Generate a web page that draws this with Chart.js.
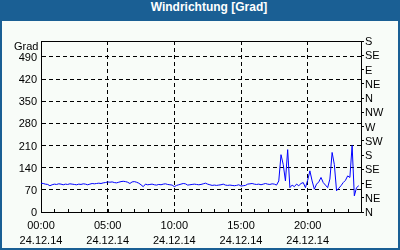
<!DOCTYPE html>
<html>
<head>
<meta charset="utf-8">
<script src="https://cdn.jsdelivr.net/npm/chart.js@4/dist/chart.umd.min.js"></script>
<style>
  html, body { margin: 0; padding: 0; background: #fff; }
  #frame {
    position: relative;
    width: 400px;
    height: 250px;
    background: #1a5f94;
    overflow: hidden;
  }
  #title {
    position: absolute;
    left: 0; top: 0;
    width: 400px;
    height: 21px;
    line-height: 20px;
    padding-left: 18px;
    box-sizing: border-box;
    text-align: center;
    color: #fff;
    font: bold 12px "Liberation Sans", Arial, sans-serif;
  }
  #plot {
    position: absolute;
    left: 2px; top: 21px;
    width: 396px; height: 227px;
    background: #f8fcf8;
  }
</style>
</head>
<body>
<div id="frame">
  <div id="title">Windrichtung [Grad]</div>
  <div id="plot"><canvas id="chart-wind" width="396" height="227"></canvas></div>
</div>
<script>
// 10-Minuten-Werte, 24.12.14 00:00 .. 23:50
const sampleMinutes = 10;
const windDirection = [
  91, 90, 88, 87, 83, 86, 88, 87, 89, 88,
  86, 88, 87, 89, 88, 87, 86, 88, 87, 89,
  88, 86, 88, 90, 89, 90, 91, 90, 92, 93,
  95, 94, 95, 93, 92, 94, 96, 97, 96, 94,
  90, 95, 96, 94, 91, 86, 80, 88, 86, 87,
  88, 86, 85, 87, 86, 88, 89, 87, 86, 85,
  80, 84, 86, 88, 90, 89, 85, 86, 87, 88,
  87, 86, 87, 89, 91, 88, 86, 84, 85, 84,
  85, 86, 88, 85, 84, 85, 84, 83, 84, 86,
  82, 83, 84, 88, 89, 90, 88, 87, 88, 86,
  88, 90, 88, 87, 89, 88, 85, 98, 181, 150,
  98, 197, 77, 85, 80, 88, 83, 90, 93, 77,
  100, 130, 98, 72, 88, 95, 109, 93, 85, 77,
  104, 188, 150, 67, 75, 83, 93, 100, 114, 109,
  210, 51, 77, 83,
];

const degreeTicks = [0, 70, 140, 210, 280, 350, 420, 490];
const compassTicks = [0, 45, 90, 135, 180, 225, 270, 315, 360, 405, 450, 495, 540];
const compassLabels = ["N", "NE", "E", "SE", "S", "SW", "W", "NW", "N", "NE", "E", "SE", "S"];
const hourTicks = [0, 60, 120, 180, 240, 300, 360, 420, 480, 540, 600, 660, 720, 780, 840, 900, 960, 1020, 1080, 1140, 1200, 1260, 1320, 1380, 1440];
const labeledHours = { 0: ["00:00", "24.12.14"], 300: ["05:00", "24.12.14"], 600: ["10:00", "24.12.14"], 900: ["15:00", "24.12.14"], 1200: ["20:00", "24.12.14"] };
const unitLabel = "Grad";
const axisMax = 540;

const tickFont = { family: "'Liberation Sans', Arial, sans-serif", size: 11 };

const points = windDirection.map((value, index) => ({ x: index * sampleMinutes, y: value }));

// Rahmen, Stunden-Striche und Einheit
const framePlugin = {
  id: "frame",
  afterDraw(chart) {
    const { ctx, chartArea, scales } = chart;
    ctx.save();
    ctx.strokeStyle = "#000";
    ctx.lineWidth = 1;
    ctx.beginPath();
    ctx.moveTo(Math.round(chartArea.left) + 0.5, Math.round(chartArea.top) + 0.5);
    ctx.lineTo(Math.round(chartArea.right) + 0.5, Math.round(chartArea.top) + 0.5);
    ctx.stroke();

    const bottom = Math.round(chartArea.bottom);
    scales.x.ticks.forEach((tick) => {
      const px = Math.round(scales.x.getPixelForValue(tick.value)) + 0.5;
      ctx.beginPath();
      ctx.moveTo(px, bottom);
      ctx.lineTo(px, bottom - 3);
      ctx.stroke();
    });

    ctx.fillStyle = "#000";
    ctx.font = "11px 'Liberation Sans', Arial, sans-serif";
    ctx.textAlign = "left";
    ctx.textBaseline = "middle";
    ctx.fillText(unitLabel, 12, scales.y.getPixelForValue(axisMax) + 5.5);
    ctx.restore();
  },
};

new Chart(document.getElementById("chart-wind"), {
  type: "line",
  data: {
    datasets: [
      {
        label: "Windrichtung",
        data: points,
        borderColor: "#0000ff",
        borderWidth: 1,
        pointRadius: 0,
        tension: 0,
        fill: false,
      },
    ],
  },
  options: {
    responsive: false,
    animation: false,
    events: [],
    layout: { padding: { top: 20, left: 0, right: 0, bottom: 0 } },
    plugins: {
      legend: { display: false },
      tooltip: { enabled: false },
      title: { display: false },
    },
    scales: {
      x: {
        type: "linear",
        min: 0,
        max: 1440,
        afterBuildTicks: (scale) => {
          scale.ticks = hourTicks.map((value) => ({ value }));
        },
        afterFit: (scale) => {
          scale.height = 36;
        },
        ticks: {
          autoSkip: false,
          maxRotation: 0,
          padding: 6,
          color: "#000",
          font: { ...tickFont, lineHeight: "15.5px" },
          callback: (value) => labeledHours[value] || "",
        },
        grid: {
          drawTicks: false,
          color: (ctx) => {
            const v = ctx.tick && ctx.tick.value;
            return v % 300 === 0 && v > 0 && v < 1440 ? "#000" : "rgba(0,0,0,0)";
          },
        },
        border: { display: true, color: "#000", width: 1, dash: [4, 3] },
      },
      y: {
        position: "left",
        min: 0,
        max: axisMax,
        afterBuildTicks: (scale) => {
          scale.ticks = degreeTicks.map((value) => ({ value }));
        },
        afterFit: (scale) => {
          scale.width = 39;
        },
        ticks: {
          autoSkip: false,
          padding: 4,
          labelOffset: 1,
          color: "#000",
          font: tickFont,
        },
        grid: {
          drawTicks: false,
          color: (ctx) => (ctx.tick && ctx.tick.value > 0 ? "#000" : "rgba(0,0,0,0)"),
        },
        border: { display: true, color: "#000", width: 1, dash: [4, 3] },
      },
      y2: {
        position: "right",
        min: 0,
        max: axisMax,
        afterBuildTicks: (scale) => {
          scale.ticks = compassTicks.map((value) => ({ value }));
        },
        afterFit: (scale) => {
          scale.width = 37;
        },
        ticks: {
          autoSkip: false,
          padding: 1,
          labelOffset: 1,
          color: "#000",
          font: tickFont,
          callback: (value) => compassLabels[compassTicks.indexOf(value)],
        },
        grid: {
          drawOnChartArea: false,
          drawTicks: true,
          tickLength: 3,
          color: "#000",
        },
        border: { display: true, color: "#000", width: 1 },
      },
    },
  },
  plugins: [framePlugin],
});
</script>
</body>
</html>
